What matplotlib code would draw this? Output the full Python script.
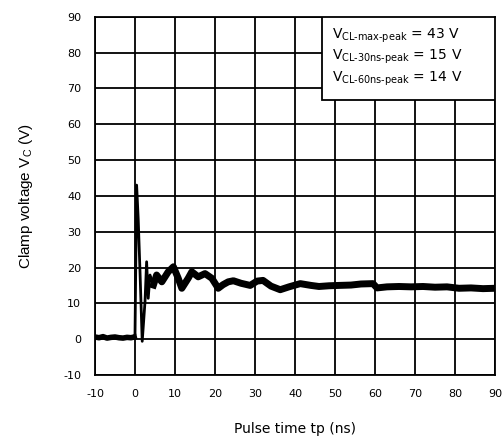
import matplotlib
matplotlib.use("Agg")
import matplotlib.pyplot as plt
from matplotlib.patches import Rectangle

plt.rcParams["axes.unicode_minus"] = False

# clamp voltage waveform (ns, V)
time_ns = [-10, -9, -8, -7, -6, -5, -4, -3, -2, -1, -0.2, 0.0, 0.4, 0.8,
           1.25, 1.8, 2.5, 2.9, 3.3, 3.75, 4.6, 5.4, 6.7, 8.3, 9.6, 10.8,
           11.7, 13.3, 14.2, 15.8, 17.5, 19.2, 20.8, 22, 23.3, 24.6, 26.5,
           28.8, 30.5, 32, 34, 36.3, 38.5, 41.3, 44, 46, 48.5, 51, 54,
           56.5, 59.5, 60.5, 63, 66, 69, 72, 75, 78, 81, 84, 87, 90]
clamp_v = [0.6, 0.4, 0.7, 0.3, 0.5, 0.6, 0.4, 0.3, 0.5, 0.4, 0.6, 1.5, 43.0, 33.5,
           18.8, -0.6, 10.5, 21.6, 11.4, 17.9, 15.1, 17.9, 16.0, 18.8, 20.2, 17.0,
           14.2, 17.0, 18.8, 17.4, 18.3, 17.0, 14.2, 15.2, 16.0, 16.3, 15.6,
           15.0, 16.2, 16.4, 14.8, 13.8, 14.6, 15.5, 15.0, 14.7, 14.9, 15.0, 15.1,
           15.4, 15.5, 14.3, 14.6, 14.7, 14.6, 14.7, 14.5, 14.6, 14.2, 14.3, 14.1, 14.2]

x_ticks = list(range(-10, 91, 10))
y_ticks = list(range(-10, 91, 10))

peak_labels = ["CL\u2010max\u2010peak", "CL\u201030ns\u2010peak", "CL\u201060ns\u2010peak"]
peak_values = [43, 15, 14]

fig = plt.figure(figsize=(5.03, 4.37), dpi=100)
ax = fig.add_axes([0.1889, 0.1419, 0.7952, 0.8199])

# spike part thinner, noisy parts drawn as a thick band
split = 20
ax.plot(time_ns[:11], clamp_v[:11], color="black", lw=4, solid_joinstyle="round")
ax.plot(time_ns[10:split + 1], clamp_v[10:split + 1], color="black", lw=2)
ax.plot(time_ns[split:], clamp_v[split:], color="black", lw=5, solid_joinstyle="round")

ax.set_xlim(-10, 90)
ax.set_ylim(-10, 90)
ax.set_xticks(x_ticks)
ax.set_yticks(y_ticks)
ax.tick_params(length=0, labelsize=8, pad=10)
ax.grid(True, color="black", lw=1.3)
for sp in ax.spines.values():
    sp.set_linewidth(1.3)

ax.set_xlabel("Pulse time tp (ns)", fontsize=10, labelpad=17)
ax.set_ylabel("Clamp voltage V$_\\mathregular{C}$ (V)", fontsize=11,
              family="Liberation Sans", labelpad=20)

# value box in the upper right corner
box = Rectangle((0.5675, 0.7675), 0.4325, 0.2325, transform=ax.transAxes,
                facecolor="white", edgecolor="black", lw=1.3, zorder=5)
ax.add_patch(box)
for i, (lab, val) in enumerate(zip(peak_labels, peak_values)):
    ax.text(0.592, 0.940 - i * 0.0605,
            "$\\mathregular{V_{%s}}$ = %d V" % (lab, val),
            transform=ax.transAxes, fontsize=10, va="baseline", zorder=6)

fig.savefig("out.png", dpi=100)
